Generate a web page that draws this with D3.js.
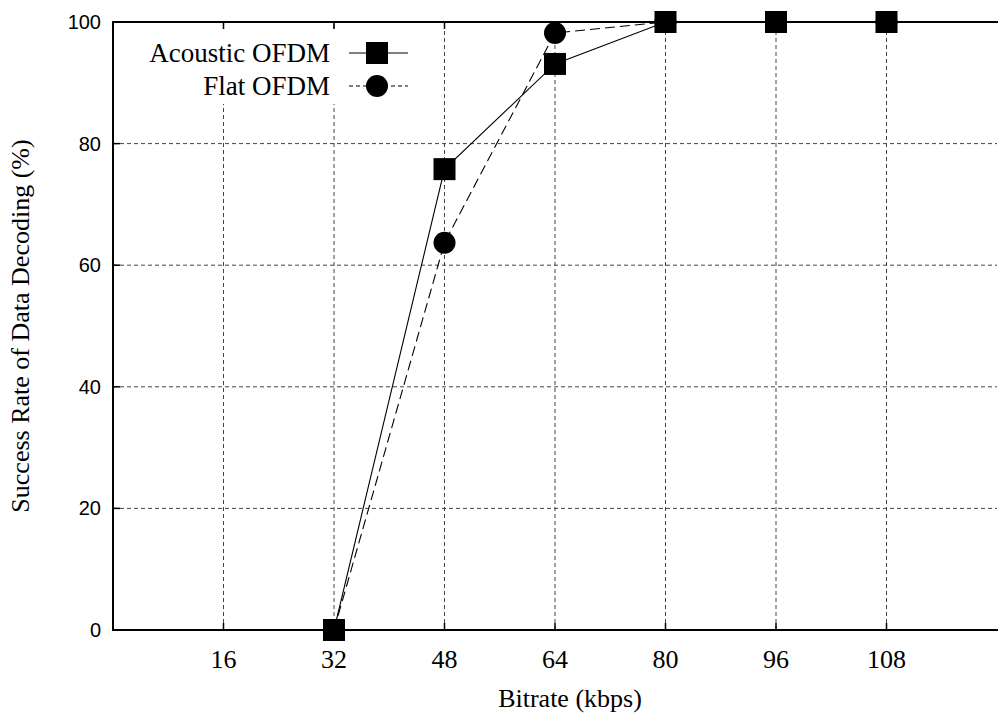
<!DOCTYPE html>
<html>
<head>
<meta charset="utf-8">
<script src="https://cdn.jsdelivr.net/npm/d3@7/dist/d3.min.js"></script>
<style>
  html, body { margin: 0; padding: 0; background: #fff; }
  svg { display: block; }
</style>
</head>
<body>
<svg id="chart" width="998" height="720"></svg>
<script>
// Bitrate categories and decoding success rates (%)
const bitrates = ["16", "32", "48", "64", "80", "96", "108"];
const acousticOFDM = [null, 0, 75.8, 93.1, 100, 100, 100];
const flatOFDM     = [null, 0, 63.7, 98.2, 100, 100, 100];
const yTicks = [0, 20, 40, 60, 80, 100];
const seriesNames = ["Acoustic OFDM", "Flat OFDM"];

const W = 998, H = 720;
const margin = { left: 113, right: 1, top: 22, bottom: 90 };
const plotL = margin.left, plotR = W - margin.right;
const plotT = margin.top, plotB = H - margin.bottom;

const serif = "'Liberation Serif', 'Times New Roman', serif";
const sans = "'Liberation Sans', Arial, sans-serif";

const svg = d3.select("#chart");

// categories sit at integer positions 1..7 on a 0..8 axis
const x = d3.scaleLinear().domain([0, bitrates.length + 1]).range([plotL, plotR]);
const y = d3.scaleLinear().domain([0, 100]).range([plotB, plotT]);
const xi = (i) => x(i + 1);

// grid
const grid = svg.append("g").attr("stroke", "#444").attr("stroke-width", 1)
  .attr("stroke-dasharray", "4,3").attr("fill", "none");
grid.selectAll("line.vx").data(bitrates).join("line")
  .attr("x1", (d, i) => xi(i)).attr("x2", (d, i) => xi(i))
  .attr("y1", plotB).attr("y2", plotT);
grid.selectAll("line.hy").data(yTicks.filter(v => v > 0 && v < 100)).join("line")
  .attr("class", "hy")
  .attr("x1", plotL).attr("x2", plotR)
  .attr("y1", d => y(d)).attr("y2", d => y(d));

// opaque key box
svg.append("rect").attr("x", 130).attr("y", 30).attr("width", 285).attr("height", 74)
  .attr("fill", "#fff");

// series
const line = d3.line()
  .defined(d => d.v != null)
  .x(d => xi(d.i)).y(d => y(d.v));
const pts = (arr) => arr.map((v, i) => ({ i, v }));

svg.append("path").datum(pts(flatOFDM)).attr("d", line)
  .attr("fill", "none").attr("stroke", "#000").attr("stroke-width", 1.1)
  .attr("stroke-dasharray", "10,5");
svg.append("path").datum(pts(acousticOFDM)).attr("d", line)
  .attr("fill", "none").attr("stroke", "#000").attr("stroke-width", 1.1);

const MS = 22;
svg.append("g").selectAll("circle").data(pts(flatOFDM).filter(d => d.v != null)).join("circle")
  .attr("cx", d => xi(d.i)).attr("cy", d => y(d.v)).attr("r", MS / 2).attr("fill", "#000");
svg.append("g").selectAll("rect").data(pts(acousticOFDM).filter(d => d.v != null)).join("rect")
  .attr("x", d => xi(d.i) - MS / 2).attr("y", d => y(d.v) - MS / 2)
  .attr("width", MS).attr("height", MS).attr("fill", "#000");

// border and ticks
const axis = svg.append("g").attr("stroke", "#000").attr("fill", "none");
axis.append("line").attr("x1", plotL).attr("x2", plotR + 2).attr("y1", plotB).attr("y2", plotB).attr("stroke-width", 2);
axis.append("line").attr("x1", plotL).attr("x2", plotR + 2).attr("y1", plotT).attr("y2", plotT).attr("stroke-width", 2);
axis.append("line").attr("x1", plotL).attr("x2", plotL).attr("y1", plotT - 1).attr("y2", plotB + 1).attr("stroke-width", 2);
const TK = 7;
bitrates.forEach((b, i) => {
  axis.append("line").attr("x1", xi(i)).attr("x2", xi(i)).attr("y1", plotB).attr("y2", plotB - TK).attr("stroke-width", 1.5);
  axis.append("line").attr("x1", xi(i)).attr("x2", xi(i)).attr("y1", plotT).attr("y2", plotT + TK).attr("stroke-width", 1.5);
});
yTicks.forEach(v => {
  axis.append("line").attr("x1", plotL).attr("x2", plotL + TK).attr("y1", y(v)).attr("y2", y(v)).attr("stroke-width", 1.5);
});

// tick labels
svg.append("g").selectAll("text").data(bitrates).join("text")
  .attr("x", (d, i) => xi(i)).attr("y", plotB + 38)
  .attr("text-anchor", "middle").attr("font-family", serif).attr("font-size", 26)
  .text(d => d);
svg.append("g").selectAll("text").data(yTicks).join("text")
  .attr("x", plotL - 12).attr("y", d => y(d)).attr("dy", "0.35em")
  .attr("text-anchor", "end").attr("font-family", sans).attr("font-size", 20)
  .text(d => d);

// axis titles
svg.append("text").attr("x", 570).attr("y", plotB + 77)
  .attr("text-anchor", "middle").attr("font-family", serif).attr("font-size", 26)
  .text("Bitrate (kbps)");
svg.append("text").attr("transform", `translate(29, ${(plotT + plotB) / 2}) rotate(-90)`)
  .attr("text-anchor", "middle").attr("font-family", serif).attr("font-size", 26)
  .text("Success Rate of Data Decoding (%)");

// legend
const legend = svg.append("g");
seriesNames.forEach((name, k) => {
  const ly = 53 + k * 33;
  legend.append("text").attr("x", 330).attr("y", ly).attr("dy", "0.33em")
    .attr("text-anchor", "end").attr("font-family", serif).attr("font-size", 27)
    .text(name);
  legend.append("line").attr("x1", 349).attr("x2", 408).attr("y1", ly).attr("y2", ly)
    .attr("stroke", "#000").attr("stroke-width", 1.1)
    .attr("stroke-dasharray", k === 0 ? null : "4,3");
  if (k === 0) {
    legend.append("rect").attr("x", 377 - MS / 2).attr("y", ly - MS / 2)
      .attr("width", MS).attr("height", MS).attr("fill", "#000");
  } else {
    legend.append("circle").attr("cx", 377).attr("cy", ly).attr("r", MS / 2).attr("fill", "#000");
  }
});
</script>
</body>
</html>
